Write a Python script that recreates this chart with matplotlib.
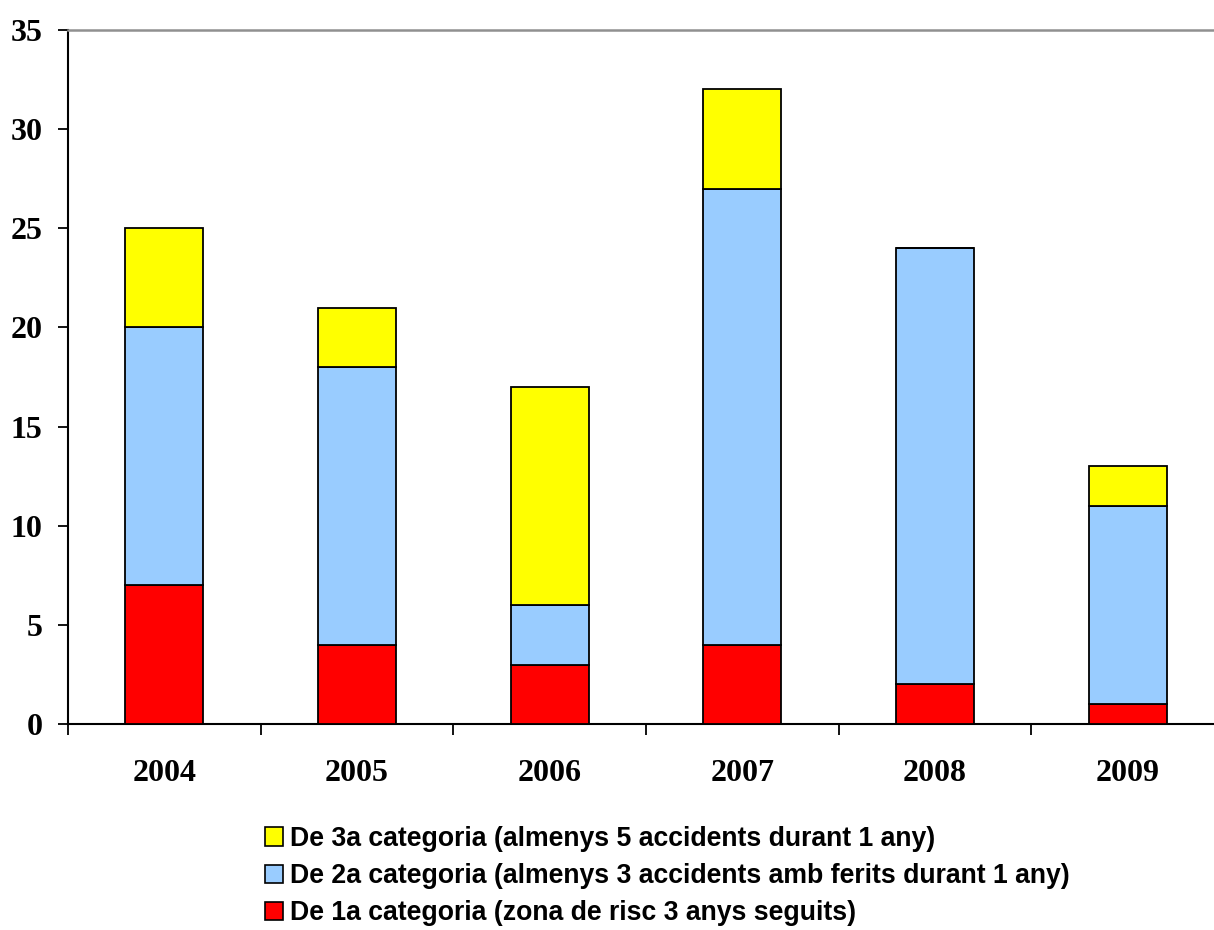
import matplotlib
matplotlib.use("Agg")
import matplotlib.pyplot as plt
import numpy as np
from matplotlib.patches import Patch

years = ["2004", "2005", "2006", "2007", "2008", "2009"]
cat1 = [7, 4, 3, 4, 2, 1]        # De 1a categoria
cat2 = [13, 14, 3, 23, 22, 10]   # De 2a categoria
cat3 = [5, 3, 11, 5, 0, 2]       # De 3a categoria
labels = [
    "De 1a categoria (zona de risc 3 anys seguits)",
    "De 2a categoria (almenys 3 accidents amb ferits durant 1 any)",
    "De 3a categoria (almenys 5 accidents durant 1 any)",
]
colors = ["#FF0000", "#99CCFF", "#FFFF00"]

W, H = 1214, 930
fig = plt.figure(figsize=(W / 100, H / 100), dpi=100)
ax = fig.add_axes([68 / W, 1 - 724 / H, 1156 / W, (724 - 30) / H])

x = np.arange(len(years))
bw = 0.405
c1 = np.array(cat1)
c2 = np.array(cat2)
c3 = np.array(cat3)
ax.bar(x, c1, bw, color=colors[0], edgecolor="black", linewidth=1.3, zorder=3)
ax.bar(x, c2, bw, bottom=c1, color=colors[1], edgecolor="black", linewidth=1.3, zorder=3)
ax.bar(x, c3, bw, bottom=c1 + c2, color=colors[2], edgecolor="black", linewidth=1.3, zorder=3)

ax.set_xlim(-0.5, len(years) - 0.5)
ax.set_ylim(0, 35)
ax.set_yticks(np.arange(0, 36, 5))

serif = {"family": "Liberation Serif", "weight": "bold", "size": 23}
ax.set_yticklabels([str(v) for v in range(0, 36, 5)], fontdict=serif)
ax.set_xticks(np.arange(-0.5, len(years), 1.0))
ax.set_xticklabels([])
ax.set_xticks(x, minor=True)
ax.set_xticklabels(years, minor=True, fontdict=serif)
ax.tick_params(axis="x", which="minor", length=0, pad=25)
ax.tick_params(axis="x", which="major", length=8, width=1.3, direction="out")
ax.tick_params(axis="y", length=7.5, width=1.3, direction="out", pad=11)

for s in ["left", "bottom"]:
    ax.spines[s].set_linewidth(1.5)
ax.spines["right"].set_visible(False)
ax.spines["top"].set_color("#909090")
ax.spines["top"].set_linewidth(1.8)

handles = [Patch(facecolor=colors[i], edgecolor="black", linewidth=1.2) for i in (2, 1, 0)]
leg = fig.legend(handles, [labels[i] for i in (2, 1, 0)],
                 loc="upper left", bbox_to_anchor=(265 / W, 1 - 826 / H),
                 bbox_transform=fig.transFigure, frameon=False,
                 prop={"family": "Liberation Sans", "weight": "bold", "size": 19.2},
                 handlelength=0.68, handleheight=0.68, handletextpad=0.25,
                 labelspacing=0.42, borderpad=0, borderaxespad=0)

fig.savefig("out.png", dpi=100)
